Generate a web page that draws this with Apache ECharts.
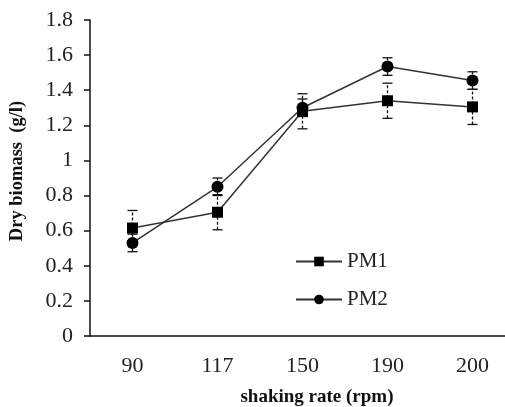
<!DOCTYPE html>
<html>
<head>
<meta charset="utf-8">
<script src="https://cdn.jsdelivr.net/npm/echarts@6/dist/echarts.min.js"></script>
<style>html,body{margin:0;padding:0;background:#fff;}#c{width:505px;height:407px;}</style>
</head>
<body>
<div id="c"></div>
<script>
const categories = ['90', '117', '150', '190', '200'];
const pm1 = [0.615, 0.705, 1.28, 1.34, 1.305];
const pm1Err = [0.1, 0.1, 0.1, 0.1, 0.1];
const pm2 = [0.53, 0.85, 1.30, 1.535, 1.455];
const pm2Err = [0.05, 0.05, 0.05, 0.05, 0.05];
const yTicks = { min: 0, max: 1.8, interval: 0.2 };

const serif = 'Liberation Serif';
function errData(vals, errs) {
  return vals.map((v, i) => [i, v - errs[i], v + errs[i]]);
}
function errRender(params, api) {
  const x = api.value(0);
  const lo = api.coord([x, api.value(1)]);
  const hi = api.coord([x, api.value(2)]);
  const w = 5;
  const st = { stroke: '#111', lineWidth: 1.3 };
  return {
    type: 'group',
    children: [
      { type: 'line', shape: { x1: lo[0], y1: lo[1], x2: hi[0], y2: hi[1] }, style: Object.assign({ lineDash: [3, 2] }, st) },
      { type: 'line', shape: { x1: lo[0] - w, y1: lo[1], x2: lo[0] + w, y2: lo[1] }, style: st },
      { type: 'line', shape: { x1: hi[0] - w, y1: hi[1], x2: hi[0] + w, y2: hi[1] }, style: st }
    ]
  };
}
const chart = echarts.init(document.getElementById('c'));
chart.setOption({
  animation: false,
  backgroundColor: '#fff',
  grid: { left: 90, top: 20, bottom: 71, right: -10, outerBoundsMode: 'none', containLabel: false },
  legend: {
    orient: 'vertical', left: 290, top: 246, itemWidth: 46, itemHeight: 12, itemGap: 17,
    textStyle: { fontFamily: serif, fontSize: 21, color: '#222' },
    data: ['PM1', 'PM2']
  },
  xAxis: {
    type: 'category', data: categories, boundaryGap: true,
    name: 'shaking rate (rpm)', nameLocation: 'middle', nameGap: 52,
    nameTextStyle: { fontFamily: serif, fontSize: 19, fontWeight: 'bold', color: '#111', padding: [0, 0, 0, 29] },
    axisLine: { lineStyle: { color: '#111', width: 1.5 } },
    axisTick: { alignWithLabel: false, length: 7, lineStyle: { color: '#111', width: 1.5 } },
    axisLabel: { fontFamily: serif, fontSize: 22, color: '#222', margin: 19 }
  },
  yAxis: {
    type: 'value', min: yTicks.min, max: yTicks.max, interval: yTicks.interval,
    name: 'Dry biomass  (g/l)', nameLocation: 'middle', nameGap: 63, nameRotate: 90,
    nameTextStyle: { fontFamily: serif, fontSize: 18.5, fontWeight: 'bold', color: '#111', padding: [0, 0, 0, 14] },
    splitLine: { show: false },
    axisLine: { show: true, lineStyle: { color: '#111', width: 1.5 } },
    axisTick: { show: true, length: 6, lineStyle: { color: '#111', width: 1.5 } },
    axisLabel: { fontFamily: serif, fontSize: 22, color: '#222', margin: 17,
      formatter: v => String(Math.round(v * 10) / 10) }
  },
  series: [
    { type: 'custom', name: 'err1', renderItem: errRender, data: errData(pm1, pm1Err), encode: { x: 0, y: [1, 2] }, z: 1 },
    { type: 'custom', name: 'err2', renderItem: errRender, data: errData(pm2, pm2Err), encode: { x: 0, y: [1, 2] }, z: 1 },
    { type: 'line', name: 'PM1', data: pm1, symbol: 'rect', symbolSize: 11,
      itemStyle: { color: '#000' }, lineStyle: { color: '#333', width: 1.5 }, z: 3 },
    { type: 'line', name: 'PM2', data: pm2, symbol: 'circle', symbolSize: 12,
      itemStyle: { color: '#000' }, lineStyle: { color: '#333', width: 1.5 }, z: 3 }
  ]
});
</script>
</body>
</html>
